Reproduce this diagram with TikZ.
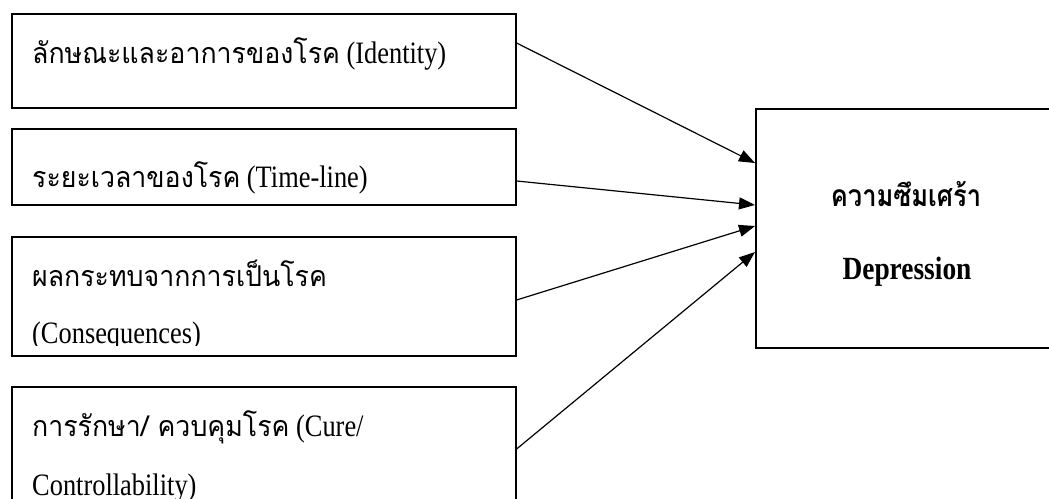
\documentclass[tikz,border=0pt]{standalone}
\usepackage{graphicx}
\usepackage{fontspec}
\setmainfont{Liberation Serif}
\newfontfamily\thai[Script=Thai,Scale=0.92,FakeStretch=1.10]{Loma}
\newfontfamily\thaihead[Script=Thai,Scale=0.93]{Loma}
\usetikzlibrary{arrows.meta,calc}
% text is set a little taller than wide
\newcommand\tallbox[1]{\scalebox{1}[1.18]{#1}}

\begin{document}
\begin{tikzpicture}[x=1bp,y=-1bp,
  box/.style={draw,line width=1.6bp,inner sep=0pt,anchor=north west},
  lbl/.style={anchor=base west,inner sep=0pt,font=\fontsize{26.5}{30}\selectfont},
  head/.style={anchor=base,inner sep=0pt,font=\fontsize{27.5}{30}\selectfont\bfseries},
  link/.style={line width=1.2bp,-{Triangle[length=16bp,width=12bp]}}]
\useasboundingbox (0,0) rectangle (1049,499);

% factor boxes
\node[box,minimum width=504bp,minimum height=94bp]  (b1) at (11,13)  {};
\node[box,minimum width=504bp,minimum height=76bp]  (b2) at (11,128) {};
\node[box,minimum width=504bp,minimum height=119bp] (b3) at (11,236) {};
\node[box,minimum width=504bp,minimum height=134bp] (b4) at (11,386) {};
% outcome box
\node[box,minimum width=310bp,minimum height=239bp] (dep) at (755,108) {};

% factor labels
\node[lbl] (t1) at (32,64)  {\tallbox{{\thai ลักษณะและอาการของโรค} (Identity)}};
\node[lbl] (t2) at (32,188) {\tallbox{{\thai ระยะเวลาของโรค} (Time-line)}};
\node[lbl] (t3) at (32,287) {\tallbox{\thai ผลกระทบจากการเป็นโรค}};
\begin{scope}
  \clip (11,236) rectangle (515,346);
  \node[lbl] (t3b) at (32,344) {\tallbox{(Consequences)}};
\end{scope}
\node[lbl] (t4) at (32,436) {\tallbox{{\thai การรักษา/ ควบคุมโรค} (Cure/}};
\node[lbl] (t4b) at (32,495) {\tallbox{Controllability)}};

% outcome labels
\node[head] (d1) at (906,207) {\tallbox{\thaihead ความซึมเศร้า}};
\node[head] (d2) at (907,280) {\tallbox{Depression}};

% influences
\draw[link] ($(b1.north east)+(0,30)$) -- ($(dep.north west)+(0,55)$);
\draw[link] ($(b2.north east)+(0,53)$) -- ($(dep.north west)+(0,97)$);
\draw[link] ($(b3.north east)+(0,64)$) -- ($(dep.north west)+(0,118)$);
\draw[link] ($(b4.north east)+(0,63)$) -- ($(dep.north west)+(0,144)$);
\end{tikzpicture}
\end{document}
